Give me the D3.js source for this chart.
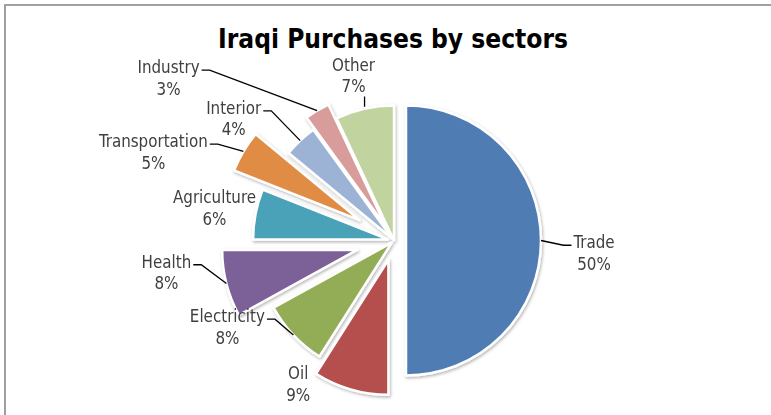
<!DOCTYPE html>
<html>
<head>
<meta charset="utf-8">
<script src="https://cdn.jsdelivr.net/npm/d3@7"></script>
<style>
  html, body { margin: 0; padding: 0; background: #fff; }
  svg { display: block; }
</style>
</head>
<body>
<div id="chart"></div>
<script>
// Chart data
const title = 'Iraqi Purchases by sectors';
const categories = ['Trade', 'Oil', 'Electricity', 'Health', 'Agriculture', 'Transportation', 'Interior', 'Industry', 'Other'];
const shares = [50, 9, 8, 8, 6, 5, 4, 3, 7];

// Look of each slice (not data)
const sliceColors = ['#4f7db3', '#b5504d', '#93ad56', '#7b6198', '#4aa2b8', '#e08c44', '#9cb3d6', '#d89c9b', '#c1d49f'];
const explodePx = [12, 20, 3, 38, 6, 40, 2, 16, 0];
// label block centre relative to the slice's outer mid point, and whether a leader line is drawn
const labelNudge = [[53, 12.5], [-52.5, -5], [-66, -8], [-60, -11], [-41, -6], [-90, 0.5], [-66.5, -22], [-148.6, -32.6], [-11, -33]];
const labelLeader = [true, false, true, true, false, true, true, true, true];

const width = 771, height = 415;
const cx = 394, cy = 240.5, radius = 135;
const fontFamily = '"DejaVu Sans Condensed", "Liberation Sans", Arial, sans-serif';

const svg = d3.select('#chart')
    .append('svg')
    .attr('width', width)
    .attr('height', height);

// soft shadow under the slices
const defs = svg.append('defs');
defs.append('filter')
    .attr('id', 'shadow')
    .attr('x', '-20%').attr('y', '-20%')
    .attr('width', '140%').attr('height', '140%')
    .append('feDropShadow')
    .attr('dx', 1).attr('dy', 1.5)
    .attr('stdDeviation', 1.6)
    .attr('flood-color', '#000')
    .attr('flood-opacity', 0.3);

// chart frame (only top and left edge visible)
svg.append('path')
    .attr('d', `M5,${height} V5 H${width}`)
    .attr('fill', 'none')
    .attr('stroke', '#a0a0a0')
    .attr('stroke-width', 2);

// helper: measure a string at a given font size
const measure = (text, size, weight) => {
    const t = svg.append('text')
        .attr('font-family', fontFamily)
        .attr('font-size', size)
        .attr('font-weight', weight)
        .text(text);
    const w = t.node().getComputedTextLength();
    t.remove();
    return w;
};

// fit fonts to the widths seen in the original
const titleSize = 100 * 350 / measure(title, 100, 'bold');
const labelSize = 100 * 109 / measure('Transportation', 100, 'normal');

svg.append('text')
    .attr('x', 393)
    .attr('y', 48)
    .attr('text-anchor', 'middle')
    .attr('font-family', fontFamily)
    .attr('font-weight', 'bold')
    .attr('font-size', titleSize)
    .attr('fill', '#000')
    .text(title);

const pie = d3.pie().sort(null).value((d) => d.value);
const arc = d3.arc().innerRadius(0).outerRadius(radius);

const rows = categories.map((name, i) => ({ name, value: shares[i], i }));
const arcs = pie(rows);
const total = d3.sum(shares);

const dir = (a) => [Math.sin(a), -Math.cos(a)];

const slices = svg.append('g')
    .attr('class', 'slices')
    .attr('filter', 'url(#shadow)');

slices.selectAll('path.slice')
    .data(arcs)
    .enter()
    .append('path')
    .attr('class', 'slice')
    .attr('d', arc)
    .attr('transform', function (d) {
        const m = (d.startAngle + d.endAngle) / 2;
        const [ux, uy] = dir(m);
        const e = explodePx[d.data.i];
        return `translate(${cx + ux * e},${cy + uy * e})`;
    })
    .attr('fill', (d) => sliceColors[d.data.i])
    .attr('stroke', '#fff')
    .attr('stroke-width', 2.5)
    .attr('stroke-linejoin', 'round');

// labels
const lineGap = 21.5;
const labels = svg.append('g').attr('class', 'labels');

arcs.forEach(function (d) {
    const i = d.data.i;
    const m = (d.startAngle + d.endAngle) / 2;
    const [ux, uy] = dir(m);
    const rr = radius + explodePx[i];
    const px = cx + ux * rr, py = cy + uy * rr;
    const lx = px + labelNudge[i][0], ly = py + labelNudge[i][1];

    const pct = d3.format('.0%')(d.data.value / total);
    const g = labels.append('g');
    const l1 = g.append('text')
        .attr('x', lx).attr('y', ly - lineGap / 2)
        .attr('dy', '0.35em')
        .attr('text-anchor', 'middle')
        .attr('font-family', fontFamily)
        .attr('font-size', labelSize)
        .attr('fill', '#404040')
        .text(d.data.name);
    g.append('text')
        .attr('x', lx).attr('y', ly + lineGap / 2)
        .attr('dy', '0.35em')
        .attr('text-anchor', 'middle')
        .attr('font-family', fontFamily)
        .attr('font-size', labelSize)
        .attr('fill', '#404040')
        .text(pct);

    if (!labelLeader[i]) return;

    const w1 = l1.node().getComputedTextLength();
    const boxLeft = lx - w1 / 2, boxRight = lx + w1 / 2;
    const lineY = ly - lineGap / 2 + 3;
    let pts;
    if (px > boxRight) {
        pts = [[boxRight + 2, lineY], [boxRight + 10, lineY], [px, py]];
    } else if (px < boxLeft) {
        pts = [[boxLeft - 2, lineY], [boxLeft - 10, lineY], [px, py]];
    } else {
        pts = [[px, ly + lineGap / 2 + 10], [px, py - 2]];
    }
    labels.append('path')
        .attr('d', d3.line()(pts))
        .attr('fill', 'none')
        .attr('stroke', '#000')
        .attr('stroke-width', 1.3);
});
</script>
</body>
</html>
